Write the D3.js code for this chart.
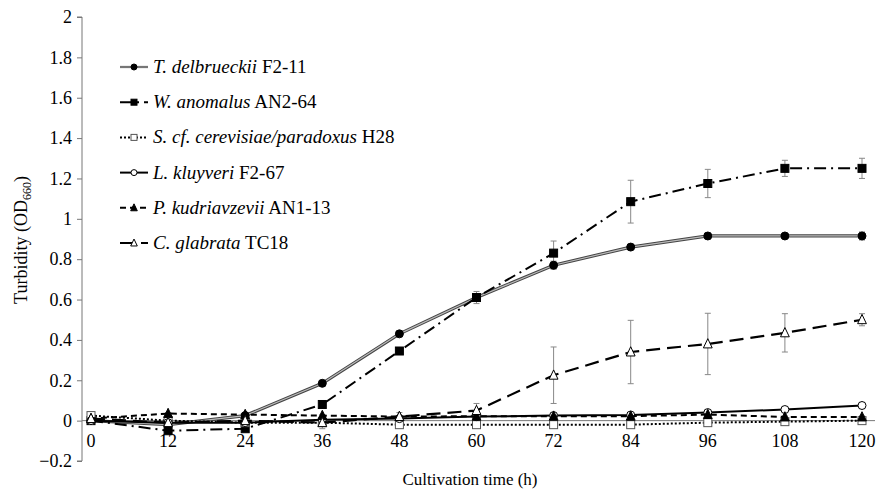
<!DOCTYPE html>
<html lang="en">
<head>
  <meta charset="UTF-8" />
  <title>Turbidity growth curves</title>
  <script src="https://cdn.jsdelivr.net/npm/d3@7"></script>
  <style>
    html, body { margin: 0; padding: 0; background: #fff; }
    svg { display: block; }
  </style>
</head>
<body>
  <script>
    // time points (h)
    const hours = [0, 12, 24, 36, 48, 60, 72, 84, 96, 108, 120];
    const yTicks = [-0.2, 0, 0.2, 0.4, 0.6, 0.8, 1, 1.2, 1.4, 1.6, 1.8, 2];

    // series means (OD660) and standard deviations
    const tdelValues = [0.0, -0.02, 0.025, 0.185, 0.43, 0.61, 0.77, 0.86, 0.915, 0.915, 0.915];
    const tdelErr    = [0.005, 0.005, 0.005, 0.005, 0.005, 0.015, 0.02, 0.01, 0.015, 0.01, 0.02];
    const wanoValues = [0.0, -0.05, -0.04, 0.08, 0.345, 0.61, 0.83, 1.085, 1.175, 1.25, 1.25];
    const wanoErr    = [0.005, 0.005, 0.005, 0.005, 0.005, 0.03, 0.06, 0.106, 0.07, 0.04, 0.05];
    const scerValues = [0.025, 0.0, -0.01, -0.01, -0.02, -0.02, -0.02, -0.02, -0.01, -0.005, 0.0];
    const scerErr    = [0.005, 0.005, 0.005, 0.005, 0.005, 0.005, 0.005, 0.005, 0.005, 0.005, 0.005];
    const lkluValues = [0.0, -0.01, -0.01, 0.005, 0.01, 0.02, 0.025, 0.028, 0.04, 0.055, 0.075];
    const lkluErr    = [0.005, 0.005, 0.005, 0.005, 0.005, 0.005, 0.005, 0.005, 0.005, 0.005, 0.005];
    const pkudValues = [0.01, 0.035, 0.03, 0.025, 0.02, 0.022, 0.022, 0.022, 0.03, 0.018, 0.018];
    const pkudErr    = [0.005, 0.005, 0.005, 0.005, 0.005, 0.005, 0.005, 0.005, 0.005, 0.005, 0.005];
    const cglaValues = [0.01, -0.01, 0.0, -0.01, 0.02, 0.05, 0.225, 0.34, 0.38, 0.435, 0.5];
    const cglaErr    = [0.005, 0.005, 0.005, 0.03, 0.02, 0.035, 0.14, 0.157, 0.152, 0.095, 0.03];

    const series = [
      { species: "T. delbrueckii", strain: "F2-11", values: tdelValues, err: tdelErr,
        marker: "circle", fill: "#000", dash: null, double: true },
      { species: "W. anomalus", strain: "AN2-64", values: wanoValues, err: wanoErr,
        marker: "square", fill: "#000", dash: "12,5,2,5", width: 2 },
      { species: "S. cf. cerevisiae/paradoxus", strain: "H28", values: scerValues, err: scerErr,
        marker: "square", fill: "#fff", dash: "2,2", width: 2 },
      { species: "L. kluyveri", strain: "F2-67", values: lkluValues, err: lkluErr,
        marker: "circle", fill: "#fff", dash: null, width: 2 },
      { species: "P. kudriavzevii", strain: "AN1-13", values: pkudValues, err: pkudErr,
        marker: "triangle", fill: "#000", dash: "6,4", width: 2 },
      { species: "C. glabrata", strain: "TC18", values: cglaValues, err: cglaErr,
        marker: "triangle", fill: "#fff", dash: "14,7", width: 2.2 }
    ];

    const width = 883, height = 492;
    const FONT = "font-family: 'Liberation Serif', 'Times New Roman', serif";
    const svg = d3.select("body").append("svg")
      .attr("width", width).attr("height", height);

    const x = d3.scaleLinear().domain([0, 120]).range([91, 862]);
    const y = d3.scaleLinear().domain([-0.2, 2]).range([461, 17]);

    // y axis, ticks outside
    const yAxis = svg.append("g")
      .attr("transform", "translate(82,0)")
      .call(d3.axisLeft(y).tickValues(yTicks).tickSize(5).tickPadding(5)
        .tickFormat(d => d3.format("~g")(d)));
    yAxis.select(".domain").attr("stroke", "#777").attr("d", `M-5,${y(2)}H0V${y(-0.2)}H-5`);
    yAxis.selectAll(".tick line").attr("stroke", "#777");
    yAxis.selectAll("text").attr("font-size", 18).attr("fill", "#000").attr("style", FONT);

    // x axis at y = 0, labels only
    svg.append("line")
      .attr("x1", 82).attr("x2", 875)
      .attr("y1", y(0)).attr("y2", y(0))
      .attr("stroke", "#777").attr("stroke-width", 1);
    svg.append("g").selectAll("text").data(hours).join("text")
      .attr("x", d => x(d)).attr("y", 447)
      .attr("text-anchor", "middle").attr("font-size", 18).attr("style", FONT)
      .text(d => d);

    // axis titles
    svg.append("text")
      .attr("x", 470).attr("y", 485)
      .attr("text-anchor", "middle").attr("font-size", 17).attr("style", FONT)
      .text("Cultivation time (h)");
    const yt = svg.append("text")
      .attr("transform", "translate(27,240) rotate(-90)")
      .attr("text-anchor", "middle").attr("font-size", 18).attr("style", FONT);
    yt.append("tspan").text("Turbidity (OD");
    yt.append("tspan").attr("font-size", 12).attr("dy", 4).text("660");
    yt.append("tspan").attr("dy", -4).text(")");

    const line = d3.line().x((d, i) => x(hours[i])).y(d => y(d));

    function drawMarker(g, type, fill, cx, cy, s) {
      if (type === "circle") {
        g.append("circle").attr("cx", cx).attr("cy", cy).attr("r", s * 0.5)
          .attr("fill", fill).attr("stroke", "#000").attr("stroke-width", 1);
      } else if (type === "square") {
        g.append("rect").attr("x", cx - s / 2).attr("y", cy - s / 2)
          .attr("width", s).attr("height", s)
          .attr("fill", fill).attr("stroke", fill === "#fff" ? "#555" : "#000").attr("stroke-width", 1);
      } else {
        const h = s * 1.1;
        g.append("path")
          .attr("d", `M${cx},${cy - h * 0.6}L${cx + s * 0.55},${cy + h * 0.45}L${cx - s * 0.55},${cy + h * 0.45}Z`)
          .attr("fill", fill).attr("stroke", "#000").attr("stroke-width", 1);
      }
    }

    const plot = svg.append("g");

    // error bars first
    series.forEach(s => {
      const eb = plot.append("g").attr("stroke", "#888").attr("stroke-width", 1);
      s.values.forEach((v, i) => {
        const e = s.err[i];
        const cx = x(hours[i]);
        eb.append("line").attr("x1", cx).attr("x2", cx).attr("y1", y(v - e)).attr("y2", y(v + e));
        eb.append("line").attr("x1", cx - 3).attr("x2", cx + 3).attr("y1", y(v - e)).attr("y2", y(v - e));
        eb.append("line").attr("x1", cx - 3).attr("x2", cx + 3).attr("y1", y(v + e)).attr("y2", y(v + e));
      });
    });

    // lines and markers
    series.forEach(s => {
      const g = plot.append("g");
      if (s.double) {
        g.append("path").datum(s.values).attr("d", line)
          .attr("fill", "none").attr("stroke", "#444").attr("stroke-width", 3.2);
        g.append("path").datum(s.values).attr("d", line)
          .attr("fill", "none").attr("stroke", "#bbb").attr("stroke-width", 1.2);
      } else {
        g.append("path").datum(s.values).attr("d", line)
          .attr("fill", "none").attr("stroke", "#000").attr("stroke-width", s.width)
          .attr("stroke-dasharray", s.dash);
      }
      s.values.forEach((v, i) => drawMarker(g, s.marker, s.fill, x(hours[i]), y(v), 8));
    });

    // legend
    const legend = svg.append("g");
    series.forEach((s, i) => {
      const ly = 67 + i * 35.2;
      const lg = legend.append("g");
      if (s.double) {
        lg.append("line").attr("x1", 120).attr("x2", 148).attr("y1", ly).attr("y2", ly)
          .attr("stroke", "#555").attr("stroke-width", 2.2);
        lg.append("line").attr("x1", 120).attr("x2", 148).attr("y1", ly).attr("y2", ly)
          .attr("stroke", "#aaa").attr("stroke-width", 0.8);
      } else {
        lg.append("line").attr("x1", 120).attr("x2", 148).attr("y1", ly).attr("y2", ly)
          .attr("stroke", "#000").attr("stroke-width", s.width)
          .attr("stroke-dasharray", s.dash);
      }
      drawMarker(lg, s.marker, s.fill, 134, ly, 6);
      const t = lg.append("text").attr("x", 153).attr("y", ly + 6)
        .attr("font-size", 19).attr("style", FONT);
      t.append("tspan").attr("font-style", "italic").text(s.species);
      t.append("tspan").text(" " + s.strain);
    });
  </script>
</body>
</html>
